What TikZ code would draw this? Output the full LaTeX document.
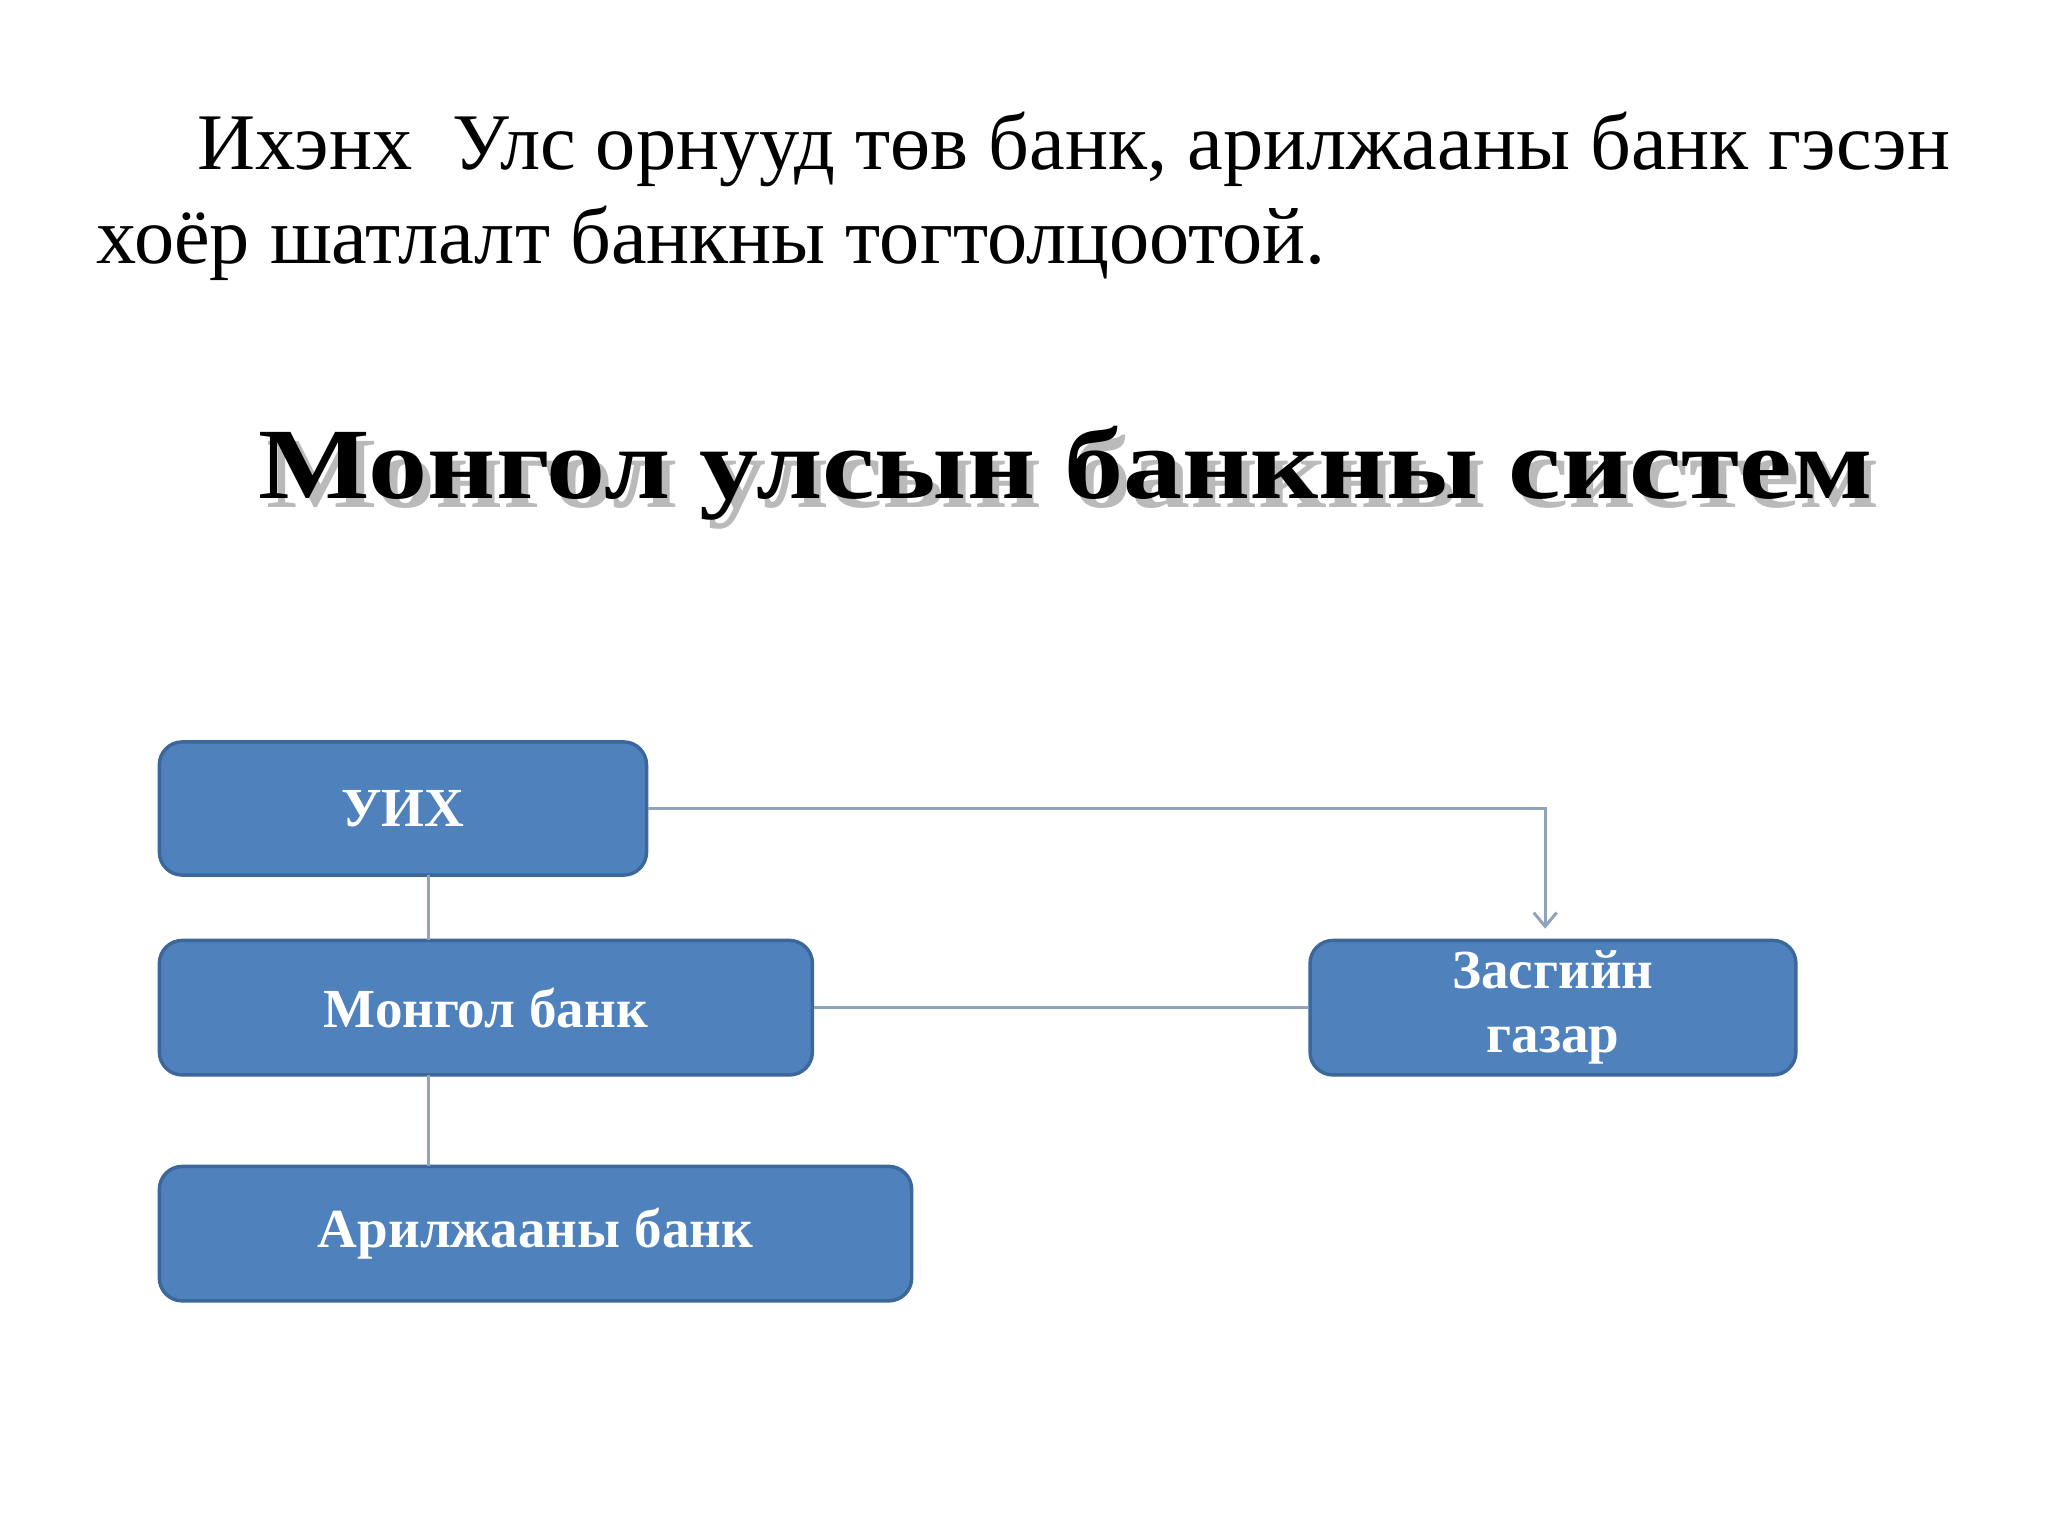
\documentclass[tikz,border=0pt]{standalone}
\usepackage{fontspec}
\setmainfont{Liberation Serif}
\usetikzlibrary{arrows.meta}
\definecolor{boxfill}{HTML}{4F81BD}
\definecolor{boxline}{HTML}{3B679A}
\definecolor{conn}{HTML}{8FA3BC}
\begin{document}
\begin{tikzpicture}[x=0.02cm,y=-0.02cm,
  bx/.style={draw=boxline,line width=1.5pt,fill=boxfill,rounded corners=10pt,inner sep=0pt,
    text=white,font=\fontsize{24}{28}\selectfont\bfseries,align=center},
  ttl/.style={font=\fontsize{44}{50}\selectfont\bfseries,xscale=1.17},
  ln/.style={draw=conn,line width=1.3pt}]
\useasboundingbox (0,0) rectangle (1568,1176);
\node[anchor=base west,font=\fontsize{35}{42}\selectfont] (l1) at (145,130) {Ихэнх\ \ Улс орнууд төв банк, арилжааны банк гэсэн};
\node[anchor=base west,font=\fontsize{35}{42}\selectfont] (l2) at (68,202) {хоёр шатлалт банкны тогтолцоотой.};
\node[ttl,text=black!60,opacity=0.45] (tsh) at (822,369) {Монгол улсын банкны систем};
\node[ttl] (t) at (816,362) {Монгол улсын банкны систем};
\node[bx,minimum width=373*0.02cm,minimum height=102*0.02cm] (u) at (308.5,619) {УИХ};
\node[bx,minimum width=500*0.02cm,minimum height=103*0.02cm] (m) at (372,771.5) {Монгол банк};
\node[bx,minimum width=576*0.02cm,minimum height=103*0.02cm] (a) at (410,944.5) {Арилжааны банк};
\node[bx,minimum width=372*0.02cm,minimum height=103*0.02cm] (z) at (1189,771.5) {Засгийн\\газар};
\draw[ln] (328,670) -- (328,720);
\draw[ln] (328,823) -- (328,893);
\draw[ln] (m.east) -- (z.west);
\draw[ln,-{Straight Barb[length=6pt,width=10pt]}] (u.east) -- (1183,619) -- (1183,711);
\end{tikzpicture}
\end{document}
